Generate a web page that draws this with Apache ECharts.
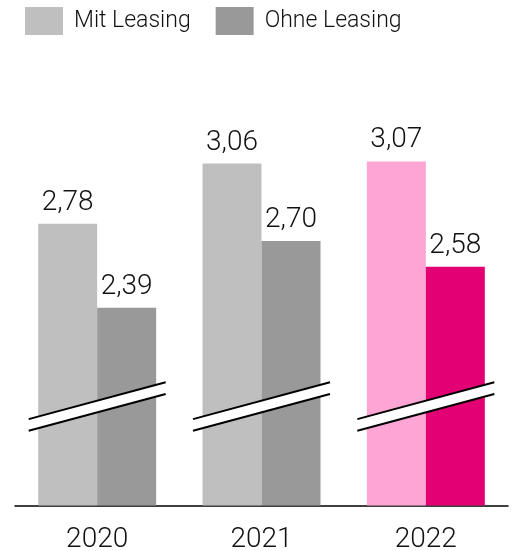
<!DOCTYPE html>
<html>
<head>
<meta charset="utf-8">
<script src="https://cdn.jsdelivr.net/npm/echarts@6/dist/echarts.min.js"></script>
<style>
  html, body { margin: 0; padding: 0; background: #fff; }
  #chart { width: 513px; height: 551px; }
</style>
</head>
<body>
<div id="chart"></div>
<script>
  // data
  var years = ['2020', '2021', '2022'];
  var mitLeasing = [2.78, 3.06, 3.07];
  var ohneLeasing = [2.39, 2.70, 2.58];
  // where the axis-break marks sit (value on the y scale)
  var breakAt = [1.93, 1.93, 1.93];

  var grayLight = '#bfbfbf';
  var grayDark = '#999999';
  var pinkLight = '#fda5d4';
  var magenta = '#e20074';
  var font = 'Roboto, "Noto Sans", sans-serif';

  function fmt(p) {
    return p.value.toFixed(2).replace('.', ',');
  }

  function colorize(values, normal, highlight) {
    return values.map(function (v, i) {
      return {
        value: v,
        itemStyle: { color: i === values.length - 1 ? highlight : normal }
      };
    });
  }

  var barLabel = {
    show: true,
    position: 'top',
    distance: 7,
    formatter: fmt,
    color: '#111',
    fontSize: 28,
    fontWeight: 300,
    fontFamily: font
  };

  function renderBreak(params, api) {
    var c = api.coord([api.value(0), api.value(1)]);
    var half = 68.5, dy = 18.4, gap = 5.85;
    var x1 = c[0] - half, x2 = c[0] + half;
    var lineStyle = { stroke: '#000', lineWidth: 2, fill: null };
    return {
      type: 'group',
      children: [
        {
          type: 'polygon',
          shape: { points: [[x1, c[1] + dy - gap], [x2, c[1] - dy - gap], [x2, c[1] - dy + gap], [x1, c[1] + dy + gap]] },
          style: { fill: '#fff' }
        },
        { type: 'line', shape: { x1: x1, y1: c[1] + dy - gap, x2: x2, y2: c[1] - dy - gap }, style: lineStyle },
        { type: 'line', shape: { x1: x1, y1: c[1] + dy + gap, x2: x2, y2: c[1] - dy + gap }, style: lineStyle }
      ]
    };
  }

  var chart = echarts.init(document.getElementById('chart'));
  chart.setOption({
    animation: false,
    legend: {
      left: 25,
      top: 7,
      padding: 0,
      itemWidth: 38,
      itemHeight: 28,
      itemGap: 25,
      icon: 'rect',
      textStyle: { fontSize: 23, fontWeight: 300, color: '#111', fontFamily: font, padding: [0, 0, 0, 6] },
      data: [
        { name: 'Mit Leasing', itemStyle: { color: grayLight } },
        { name: 'Ohne Leasing', itemStyle: { color: grayDark } }
      ]
    },
    grid: { left: 15, right: 5, top: 90.4, bottom: 45.5, outerBoundsMode: 'none', containLabel: false },
    xAxis: {
      type: 'category',
      data: years,
      axisTick: { show: false },
      axisLine: { lineStyle: { color: '#000', width: 1.5 } },
      axisLabel: { fontSize: 28, fontWeight: 300, color: '#111', fontFamily: font, margin: 20 }
    },
    yAxis: {
      type: 'value',
      min: 1.47,
      max: 3.4,
      show: false,
      splitLine: { show: false }
    },
    series: [
      {
        name: 'Mit Leasing',
        type: 'bar',
        barWidth: 59,
        barGap: '0%',
        itemStyle: { color: grayLight },
        label: barLabel,
        data: colorize(mitLeasing, grayLight, pinkLight)
      },
      {
        name: 'Ohne Leasing',
        type: 'bar',
        barWidth: 59,
        barGap: '0%',
        itemStyle: { color: grayDark },
        label: barLabel,
        data: colorize(ohneLeasing, grayDark, magenta)
      },
      {
        type: 'custom',
        z: 10,
        silent: true,
        renderItem: renderBreak,
        data: breakAt.map(function (v, i) { return [i, v]; })
      }
    ]
  });
</script>
</body>
</html>
